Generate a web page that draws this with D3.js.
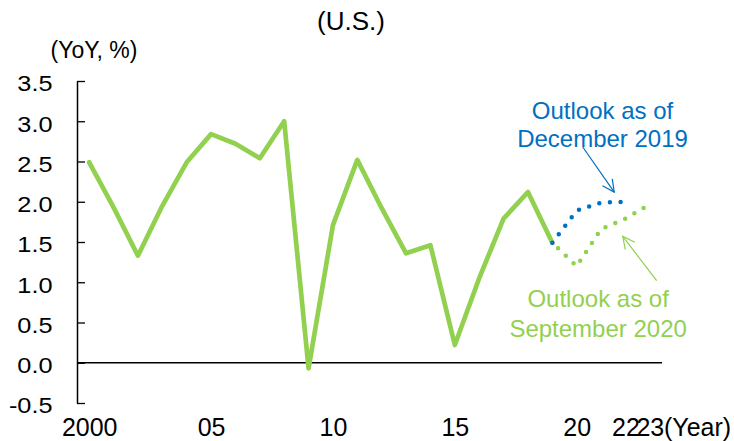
<!DOCTYPE html>
<html lang="en">

<head>
  <meta charset="UTF-8" />
  <title>U.S. outlook</title>
  <script src="https://d3js.org/d3.v7.min.js"></script>
  <style>
    * {
      margin: 0;
      padding: 0;
      box-sizing: border-box;
    }

    body {
      background: #fff;
      font-family: "Liberation Sans", Arial, sans-serif;
    }
  </style>
</head>

<body>
  <script>
    // data
    const years = [2000, 2001, 2002, 2003, 2004, 2005, 2006, 2007, 2008, 2009,
      2010, 2011, 2012, 2013, 2014, 2015, 2016, 2017, 2018, 2019];
    const actual = [2.49, 1.93, 1.33, 1.95, 2.49, 2.84, 2.72, 2.54, 3.0, -0.07,
      1.71, 2.52, 1.92, 1.36, 1.46, 0.22, 1.05, 1.79, 2.12, 1.49];
    const dec2019Years = [2019, 2020, 2021, 2022];
    const dec2019 = [1.49, 1.89, 1.99, 2.0];
    const sep2020Years = [2019, 2020, 2021, 2022, 2023];
    const sep2020 = [1.49, 1.20, 1.66, 1.79, 1.97];
    const yTicks = [-0.5, 0, 0.5, 1, 1.5, 2, 2.5, 3, 3.5];
    const xTicks = [2000, 2005, 2010, 2015, 2020, 2022, 2023];
    const xTickLabels = ['2000', '05', '10', '15', '20', '22', '23'];

    //constants
    const [w, h] = [734, 441];
    const green = '#92D050';
    const blue = '#0070C0';
    const font = '"Liberation Sans", Arial, sans-serif';

    const svg = d3.select('body')
      .append('svg')
      .attr('width', w)
      .attr('height', h)
      .style('font-family', font);

    //scales
    const xScale = d3.scaleLinear()
      .domain([1999.5, 2023.5])
      .range([77, 662]);

    const yScale = d3.scaleLinear()
      .domain([-0.5, 3.5])
      .range([403, 81]);

    //title and axis names
    svg.append('text')
      .attr('x', 351)
      .attr('y', 30)
      .attr('text-anchor', 'middle')
      .style('font-size', '26px')
      .text('(U.S.)');

    svg.append('text')
      .attr('x', 94)
      .attr('y', 58)
      .attr('text-anchor', 'middle')
      .style('font-size', '23px')
      .text('(YoY, %)');

    //y axis, ticks pointing into the plot
    const yAxis = d3.axisLeft(yScale)
      .tickValues(yTicks)
      .tickFormat(d => d.toFixed(1))
      .tickSizeInner(-8)
      .tickSizeOuter(0)
      .tickPadding(24);

    const sx = 1.15;
    const yG = svg.append('g')
      .attr('transform', `translate(${xScale.range()[0]}, 0)`)
      .call(yAxis);
    yG.select('.domain').attr('stroke-width', 1.5);
    yG.selectAll('.tick line').attr('stroke-width', 1.3);
    yG.selectAll('.tick text')
      .attr('x', -24.5 / sx)
      .attr('dy', '0.45em')
      .attr('transform', `scale(${sx},1)`)
      .style('font-size', '22px')
      .style('font-family', font)
      .attr('fill', '#000');

    //zero line
    svg.append('line')
      .attr('x1', xScale.range()[0])
      .attr('x2', xScale.range()[1])
      .attr('y1', yScale(0))
      .attr('y2', yScale(0))
      .attr('stroke', '#000')
      .attr('stroke-width', 1.5);

    //x labels, no axis line
    const xAxis = d3.axisBottom(xScale)
      .tickValues(xTicks)
      .tickFormat((d, i) => xTickLabels[i])
      .tickSize(0)
      .tickPadding(15);

    const xG = svg.append('g')
      .attr('transform', `translate(0, ${yScale(-0.5)})`)
      .call(xAxis);
    xG.select('.domain').remove();
    xG.selectAll('.tick text')
      .style('font-size', '25px')
      .style('font-family', font)
      .attr('fill', '#000');

    svg.append('text')
      .attr('x', 664)
      .attr('y', 436)
      .style('font-size', '25px')
      .text('(Year)');

    //lines
    const line = d3.line()
      .x(d => xScale(d[0]))
      .y(d => yScale(d[1]));

    svg.append('path')
      .datum(d3.zip(years, actual))
      .attr('d', line)
      .attr('fill', 'none')
      .attr('stroke', green)
      .attr('stroke-width', 4.7)
      .attr('stroke-linejoin', 'round')
      .attr('stroke-linecap', 'round');

    svg.append('path')
      .datum(d3.zip(sep2020Years, sep2020))
      .attr('d', line)
      .attr('fill', 'none')
      .attr('stroke', green)
      .attr('stroke-width', 4.5)
      .attr('stroke-linecap', 'round')
      .attr('stroke-dasharray', '0 10.7')
      .attr('stroke-dashoffset', -8);

    svg.append('path')
      .datum(d3.zip(dec2019Years, dec2019))
      .attr('d', line)
      .attr('fill', 'none')
      .attr('stroke', blue)
      .attr('stroke-width', 4.5)
      .attr('stroke-linecap', 'round')
      .attr('stroke-dasharray', '0 10.7');

    //annotations (anchored in data coordinates)
    const notes = [
      { lines: ['Outlook as of', 'December 2019'], x: 2021.06, y: [3.03, 2.68], color: blue },
      { lines: ['Outlook as of', 'September 2020'], x: 2020.88, y: [0.69, 0.32], color: green }
    ];
    notes.forEach(n => {
      n.lines.forEach((t, i) => {
        svg.append('text')
          .attr('x', xScale(n.x))
          .attr('y', yScale(n.y[i]))
          .attr('text-anchor', 'middle')
          .attr('fill', n.color)
          .style('font-size', '24px')
          .text(t);
      });
    });

    const arrows = [
      { from: [2020.25, 2.68], to: [2021.54, 2.12], color: blue },
      { from: [2023.28, 1.02], to: [2021.89, 1.57], color: green }
    ];
    arrows.forEach((a, i) => {
      svg.append('defs').append('marker')
        .attr('id', 'arr' + i)
        .attr('viewBox', '0 0 14 14')
        .attr('refX', 13)
        .attr('refY', 7)
        .attr('markerWidth', 14)
        .attr('markerHeight', 14)
        .attr('markerUnits', 'userSpaceOnUse')
        .attr('orient', 'auto')
        .append('path')
        .attr('d', 'M1,1 L13,7 L1,13')
        .attr('fill', 'none')
        .attr('stroke', a.color)
        .attr('stroke-width', 1.2);

      svg.append('line')
        .attr('x1', xScale(a.from[0]))
        .attr('y1', yScale(a.from[1]))
        .attr('x2', xScale(a.to[0]))
        .attr('y2', yScale(a.to[1]))
        .attr('stroke', a.color)
        .attr('stroke-width', 1.2)
        .attr('marker-end', `url(#arr${i})`);
    });
  </script>
</body>

</html>
